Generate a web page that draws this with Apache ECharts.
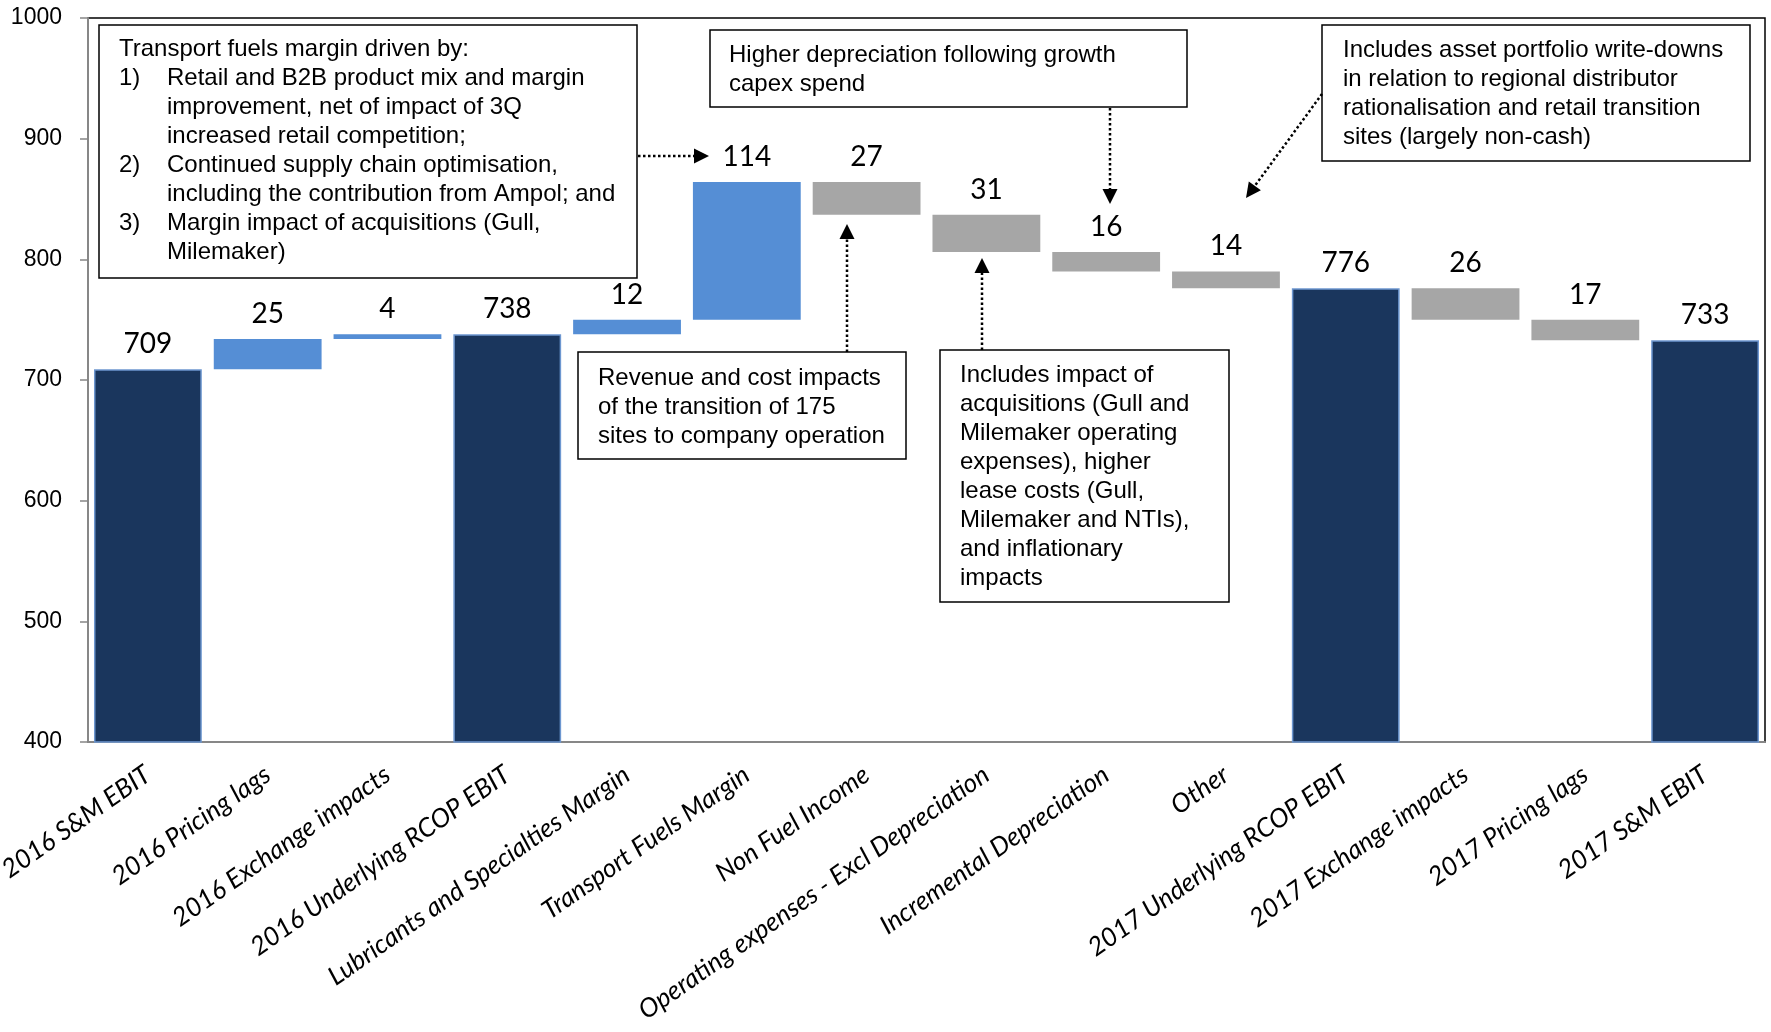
<!DOCTYPE html>
<html>
<head>
<meta charset="utf-8">
<script src="https://cdn.jsdelivr.net/npm/echarts@6/dist/echarts.min.js"></script>
<style>
  html, body { margin: 0; padding: 0; background: #fff; }
  #chart { width: 1771px; height: 1032px; }
</style>
</head>
<body>
<div id="chart"></div>
<script>
// Bridge of S&M EBIT from 2016 to 2017 ($m)
const categories = [
  '2016 S&M EBIT', '2016 Pricing lags', '2016 Exchange impacts', '2016 Underlying RCOP EBIT',
  'Lubricants and Specialties Margin', 'Transport Fuels Margin', 'Non Fuel Income',
  'Operating expenses - Excl Depreciation', 'Incremental Depreciation', 'Other',
  '2017 Underlying RCOP EBIT', '2017 Exchange impacts', '2017 Pricing lags', '2017 S&M EBIT'
];
// 'total' entries are absolute levels; the rest are signed movements
const kinds  = ['total', 'step', 'step', 'total', 'step', 'step', 'step', 'step', 'step', 'step', 'total', 'step', 'step', 'total'];
const values = [709, 25, 4, 738, 12, 114, -27, -31, -16, -14, 776, -26, -17, 733];

const yTicks = { min: 400, max: 1000, interval: 100 };

// Build the invisible base and the visible segments of the waterfall
const baseData = [], totalData = [], upData = [], downData = [];
let level = 0;
values.forEach((v, i) => {
  if (kinds[i] === 'total') {
    level = v;
    baseData.push(0); totalData.push(v); upData.push('-'); downData.push('-');
  } else if (v >= 0) {
    baseData.push(level); totalData.push('-'); upData.push(v); downData.push('-');
    level += v;
  } else {
    level += v;
    baseData.push(level); totalData.push('-'); upData.push('-'); downData.push(-v);
  }
});

const labelStyle = {
  show: true, position: 'top', distance: 11,
  fontFamily: 'Lato', fontSize: 28, color: '#000',
  formatter: p => String(p.value)
};

const chart = echarts.init(document.getElementById('chart'), null, { renderer: 'canvas' });

chart.setOption({
  animation: false,
  backgroundColor: '#fff',
  grid: {
    left: 88, right: 6, top: 18, bottom: 290,
    containLabel: false, outerBoundsMode: 'none',
    show: true, borderColor: '#000', borderWidth: 1.5, backgroundColor: 'transparent'
  },
  xAxis: {
    type: 'category', data: categories,
    axisLine: { lineStyle: { color: '#878787', width: 2 } },
    axisTick: { show: false },
    axisLabel: {
      interval: 0, rotate: 35, margin: 30, hideOverlap: false,
      fontFamily: 'Lato', fontStyle: 'italic', fontSize: 26, color: '#000'
    }
  },
  yAxis: {
    type: 'value', min: yTicks.min, max: yTicks.max, interval: yTicks.interval,
    axisLine: { show: true, lineStyle: { color: '#878787', width: 2 } },
    axisTick: { show: true, length: 8, lineStyle: { color: '#878787', width: 1.5 } },
    splitLine: { show: false },
    axisLabel: {
      fontFamily: 'Liberation Sans', fontSize: 23, color: '#000', margin: 26,
      formatter: v => String(v)
    }
  },
  series: [
    { type: 'bar', stack: 'w', data: baseData, barCategoryGap: '10%',
      itemStyle: { color: 'transparent' }, silent: true },
    { type: 'bar', stack: 'w', data: totalData,
      itemStyle: { color: '#1A365D', borderColor: '#6D97D0', borderWidth: 1.5 }, label: labelStyle },
    { type: 'bar', stack: 'w', data: upData,
      itemStyle: { color: '#558ED5' }, label: labelStyle },
    { type: 'bar', stack: 'w', data: downData,
      itemStyle: { color: '#A6A6A6' }, label: labelStyle }
  ]
});

// Commentary boxes and pointer arrows
const FONT = '24px "Liberation Sans", Arial, sans-serif';
const LH = 29;

function box(x, y, w, h) {
  return { type: 'rect', z: 10, shape: { x, y, width: w, height: h },
           style: { fill: '#fff', stroke: '#000', lineWidth: 1.5 } };
}
function txt(x, y, lines) {
  return { type: 'text', z: 11, x, y,
           style: { text: lines.join('\n'), font: FONT, fill: '#000',
                    lineHeight: LH, verticalAlign: 'top', align: 'left' } };
}
function arrow(x1, y1, x2, y2) {
  const dx = x2 - x1, dy = y2 - y1, len = Math.hypot(dx, dy);
  const ux = dx / len, uy = dy / len, hl = 15, hw = 7.5;
  const bx = x2 - ux * hl, by = y2 - uy * hl;
  return [
    { type: 'line', z: 12, shape: { x1, y1, x2: bx, y2: by },
      style: { stroke: '#000', lineWidth: 2.5, lineDash: [2.5, 2.5] } },
    { type: 'polygon', z: 12,
      shape: { points: [[x2, y2], [bx - uy * hw, by + ux * hw], [bx + uy * hw, by - ux * hw]] },
      style: { fill: '#000' } }
  ];
}

const graphics = [
  box(99, 25, 538, 253),
  txt(119, 35, ['Transport fuels margin driven by:', '1)', '', '', '2)', '', '3)']),
  txt(167, 35, ['', 'Retail and B2B product mix and margin', 'improvement, net of impact of 3Q',
                'increased retail competition;', 'Continued supply chain optimisation,',
                'including the contribution from Ampol; and', 'Margin impact of acquisitions (Gull,',
                'Milemaker)']),
  box(710, 30, 477, 77),
  txt(729, 40.5, ['Higher depreciation following growth', 'capex spend']),
  box(1322, 25, 428, 136),
  txt(1343, 35.5, ['Includes asset portfolio write-downs', 'in relation to regional distributor',
                   'rationalisation and retail transition', 'sites (largely non-cash)']),
  box(578, 352, 328, 107),
  txt(598, 363.5, ['Revenue and cost impacts', 'of the transition of 175', 'sites to company operation']),
  box(940, 350, 289, 252),
  txt(960, 360.5, ['Includes impact of', 'acquisitions (Gull and', 'Milemaker operating',
                   'expenses), higher', 'lease costs (Gull,', 'Milemaker and NTIs),',
                   'and inflationary', 'impacts']),
  ...arrow(638, 156, 709, 156),
  ...arrow(1110, 108, 1110, 204),
  ...arrow(847, 352, 847, 224),
  ...arrow(982, 350, 982, 258),
  ...arrow(1322, 94, 1246, 198)
];

chart.setOption({ graphic: { elements: graphics } });
</script>
</body>
</html>
